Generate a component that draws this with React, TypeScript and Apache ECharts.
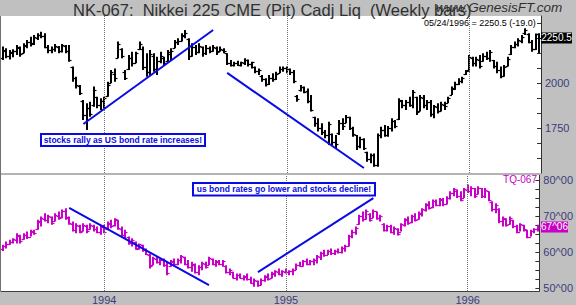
import React, { useEffect, useRef } from "react";
import * as echarts from "echarts";

// ---------- DATA ----------
const START_DATE = "1993-06-18"; // first weekly bar (Friday)
const WEEK_COUNT = 154; // last bar 05/24/1996

// Nikkei 225 CME weekly bars [open, high, low, close]
const nikkeiOHLC: number[][] = [
  [2140,2202,2128,2185],[2180,2193,2137,2150],[2150,2183,2131,2170],[2165,2187,2143,2180],
  [2175,2211,2155,2200],[2195,2202,2146,2160],[2165,2220,2165,2210],[2205,2239,2193,2230],
  [2230,2257,2202,2215],[2220,2267,2211,2255],[2250,2276,2239,2265],[2265,2285,2248,2260],
  [2260,2276,2193,2200],[2200,2211,2165,2185],[2185,2202,2165,2190],[2190,2217,2174,2205],
  [2200,2206,2165,2175],[2175,2217,2169,2210],[2205,2211,2165,2180],[2180,2211,2118,2125],
  [2090,2091,2007,2030],[2030,2035,1970,1990],[1985,1989,1933,1945],[1900,1906,1794,1820],
  [1820,1887,1739,1860],[1860,1896,1813,1830],[1880,1980,1868,1960],[1920,1924,1859,1880],
  [1880,1915,1850,1900],[1900,1924,1859,1915],[1930,2007,1924,1990],[2000,2072,1998,2060],
  [2050,2081,2007,2030],[2140,2230,2137,2215],[2190,2193,2137,2150],[2060,2072,2017,2030],
  [2075,2156,2072,2140],[2140,2174,2091,2110],[2110,2174,2109,2165],[2190,2230,2183,2215],
  [2190,2202,2072,2090],[2090,2165,2035,2060],[2060,2183,2044,2160],[2150,2165,2063,2080],
  [2080,2146,2044,2120],[2120,2174,2109,2150],[2140,2146,2100,2110],[2120,2183,2118,2170],
  [2160,2193,2128,2180],[2195,2239,2193,2225],[2225,2248,2211,2235],[2235,2276,2230,2265],
  [2260,2294,2248,2280],[2245,2248,2128,2150],[2150,2220,2146,2200],[2200,2211,2156,2170],
  [2170,2220,2165,2205],[2200,2202,2146,2165],[2165,2211,2156,2195],[2195,2202,2165,2180],
  [2180,2211,2174,2200],[2195,2202,2156,2170],[2175,2202,2174,2190],[2185,2193,2165,2175],
  [2165,2165,2100,2110],[2110,2128,2091,2100],[2100,2118,2091,2110],[2110,2124,2094,2100],
  [2100,2118,2091,2115],[2110,2137,2100,2125],[2125,2131,2091,2105],[2105,2118,2081,2115],
  [2088,2091,2054,2065],[2065,2081,2044,2070],[2040,2044,2007,2020],[2020,2026,1980,1995],
  [1995,2044,1989,2030],[2030,2054,2007,2020],[2020,2063,2017,2050],[2055,2091,2054,2080],
  [2075,2091,2063,2085],[2085,2091,2054,2080],[2080,2081,2044,2060],[2060,2072,1998,2010],
  [1930,1933,1896,1910],[1960,1989,1952,1975],[1975,1980,1943,1950],[1955,1970,1887,1900],
  [1900,1933,1841,1850],[1810,1813,1757,1780],[1780,1804,1730,1750],[1750,1776,1711,1730],
  [1730,1739,1693,1710],[1710,1785,1655,1770],[1715,1720,1655,1670],[1670,1711,1637,1660],
  [1720,1794,1711,1780],[1780,1804,1739,1760],[1780,1822,1776,1810],[1810,1813,1739,1750],
  [1750,1757,1702,1715],[1710,1711,1628,1650],[1650,1702,1637,1690],[1690,1693,1628,1640],
  [1615,1618,1563,1580],[1580,1609,1554,1600],[1600,1609,1535,1545],[1545,1720,1535,1710],
  [1710,1757,1693,1740],[1740,1767,1702,1710],[1710,1761,1702,1750],[1750,1804,1730,1790],
  [1790,1794,1748,1760],[1800,1915,1794,1905],[1900,1906,1859,1880],[1880,1906,1850,1895],
  [1895,1924,1868,1880],[1880,1961,1859,1950],[1920,1924,1822,1840],[1845,1933,1841,1920],
  [1915,1933,1859,1880],[1880,1906,1850,1895],[1895,1906,1813,1830],[1830,1878,1804,1870],
  [1865,1887,1831,1845],[1845,1896,1841,1885],[1880,1896,1850,1870],[1890,1924,1887,1915],
  [1935,1980,1933,1970],[1965,2007,1961,1995],[1995,2026,1989,2010],[2010,2035,1998,2025],
  [2050,2072,2044,2065],[2070,2156,2063,2145],[2140,2146,2091,2110],[2110,2146,2091,2135],
  [2130,2156,2081,2095],[2120,2165,2118,2150],[2150,2174,2128,2140],[2140,2183,2118,2170],
  [2125,2128,2081,2095],[2095,2118,2054,2070],[2070,2091,2026,2040],[2040,2100,2035,2090],
  [2095,2146,2091,2135],[2160,2211,2156,2200],[2200,2230,2193,2215],[2215,2248,2202,2240],
  [2235,2267,2220,2255],[2275,2304,2267,2295],[2270,2276,2220,2230],[2230,2239,2174,2190],
  [2190,2275,2183,2269.5],[2270,2276,2165,2250.5],
];

// TQ-067 (US T-bond) weekly bars [open, high, low, close], in points
const tqOHLC: number[][] = [
  [61.0,62.1,60.4,61.8],[61.8,63.0,61.1,62.4],[62.4,63.5,62.1,62.8],[62.8,63.9,62.5,63.6],
  [63.4,65.3,62.5,64.8],[64.6,64.9,62.5,63.2],[63.6,65.3,63.5,64.9],[64.8,65.8,63.7,64.2],
  [64.4,66.3,64.4,65.9],[65.8,66.3,64.9,65.4],[66.4,69.1,66.3,68.6],[68.4,70.0,67.2,69.5],
  [69.4,70.9,68.6,69.0],[69.0,70.5,68.1,70.1],[69.8,70.0,67.7,68.2],[68.6,70.9,68.6,70.4],
  [70.2,71.4,69.1,69.6],[69.8,71.9,69.5,71.5],[71.4,72.3,69.1,69.8],[69.6,70.0,67.7,68.1],
  [68.0,68.6,65.8,66.2],[66.2,68.1,65.3,67.6],[67.4,67.7,65.3,65.8],[65.9,68.1,65.8,67.5],
  [67.4,67.7,65.3,66.0],[66.4,68.1,66.3,67.6],[67.4,67.7,65.8,66.4],[66.4,67.2,65.3,65.6],
  [65.6,67.7,64.9,67.2],[67.0,67.7,65.3,65.8],[66.4,68.6,66.3,68.2],[68.0,69.1,66.7,67.4],
  [67.6,69.5,67.2,69.2],[69.0,69.1,66.3,66.8],[66.6,67.2,64.4,64.8],[64.8,66.3,63.9,65.6],
  [64.2,64.4,62.1,62.6],[62.6,63.9,61.6,63.4],[62.8,63.0,60.7,61.0],[61.2,62.5,60.7,62.2],
  [62.0,62.1,60.2,60.6],[60.8,61.1,59.3,59.6],[59.4,59.7,55.5,56.2],[56.4,58.8,56.4,58.4],
  [58.2,58.8,56.9,57.2],[57.4,58.3,56.4,57.9],[57.8,58.3,56.0,56.4],[56.4,57.4,53.6,54.2],
  [56.2,57.9,56.0,57.5],[57.4,58.3,56.4,56.8],[56.9,58.3,56.4,58.0],[57.8,59.3,56.9,58.9],
  [58.6,58.8,56.4,56.8],[56.8,57.9,55.5,55.8],[55.8,57.4,54.6,56.9],[56.6,56.9,54.1,54.4],
  [54.4,56.4,53.6,55.9],[55.8,57.4,55.0,57.0],[56.9,57.4,55.5,55.9],[56.4,58.8,56.4,58.4],
  [58.2,58.3,56.4,56.8],[56.8,57.9,56.0,57.5],[57.4,57.9,56.4,56.7],[56.7,57.9,56.0,57.6],
  [56.2,56.4,54.1,54.4],[54.4,55.5,53.6,55.0],[54.6,54.6,52.7,53.0],[53.0,54.1,52.2,53.8],
  [53.6,54.1,52.7,52.9],[52.9,53.6,52.2,53.3],[53.2,54.1,52.2,52.5],[52.5,53.2,51.3,51.6],
  [51.6,52.7,50.4,52.2],[52.0,52.2,50.4,50.8],[50.8,52.7,50.8,52.4],[52.2,53.6,51.8,53.3],
  [53.2,54.1,52.2,52.6],[52.8,54.6,52.7,54.2],[54.0,55.0,53.2,54.8],[54.6,55.5,53.6,53.9],
  [53.9,55.0,53.2,54.7],[54.6,55.5,54.1,54.4],[54.4,55.0,53.6,54.8],[54.7,55.5,53.6,55.2],
  [55.2,56.9,55.0,56.6],[56.5,57.4,56.0,56.3],[56.3,57.9,56.0,57.6],[57.5,58.3,56.4,56.8],
  [56.8,57.9,56.4,57.6],[57.5,58.3,56.4,57.9],[57.8,59.3,56.9,58.9],[58.8,60.2,57.9,59.8],
  [59.7,60.7,58.8,59.4],[59.4,60.7,59.3,60.4],[60.3,61.1,59.3,59.8],[59.8,60.7,59.3,60.5],
  [60.4,61.1,59.7,60.0],[60.0,61.6,59.7,61.3],[61.2,62.1,60.2,61.8],[61.8,64.9,61.6,64.6],
  [64.5,66.3,63.9,65.8],[65.8,67.2,64.9,66.9],[67.8,70.5,67.7,70.2],[70.0,71.4,68.6,69.2],
  [69.4,71.9,69.1,71.5],[70.8,70.9,68.6,69.0],[69.6,71.9,69.5,71.6],[71.4,71.4,69.1,69.6],
  [69.6,70.5,68.6,70.2],[68.0,68.1,65.8,66.2],[66.2,67.7,65.8,67.4],[67.2,67.7,65.3,65.6],
  [65.6,67.2,64.9,66.8],[66.6,66.7,64.7,65.2],[65.8,68.1,65.8,67.8],[67.6,69.5,67.2,69.2],
  [69.0,70.0,67.7,68.2],[68.4,70.5,68.1,70.2],[70.0,70.9,68.6,69.0],[69.2,71.4,69.1,71.0],
  [70.8,72.3,70.0,72.0],[71.8,73.7,71.4,73.4],[73.2,74.2,71.9,72.4],[72.6,74.7,72.3,74.4],
  [74.2,74.7,72.8,73.2],[73.2,75.1,72.8,74.8],[74.6,75.1,72.8,73.4],[73.5,75.6,73.3,75.2],
  [75.0,77.0,74.7,76.6],[76.4,77.9,75.6,77.5],[77.2,77.5,75.1,75.6],[75.6,77.0,74.2,74.6],
  [75.2,77.9,75.1,77.6],[77.4,78.9,76.5,77.0],[77.0,78.4,75.6,78.0],[77.8,77.9,75.1,75.6],
  [76.2,78.4,76.1,78.0],[77.8,77.9,75.1,75.6],[75.6,77.9,75.1,77.4],[77.0,77.0,74.2,74.6],
  [74.0,74.2,71.4,72.0],[72.0,73.7,70.9,73.2],[72.2,72.3,68.1,68.6],[68.6,70.0,67.2,69.6],
  [69.4,69.5,67.2,67.6],[67.8,70.0,67.7,69.6],[69.0,69.1,66.7,67.2],[67.2,67.7,65.3,65.6],
  [65.8,68.1,65.8,67.8],[67.6,67.7,65.8,66.4],[66.2,66.3,63.9,64.2],[64.4,66.3,64.4,66.0],
  [66.0,66.7,65.3,66.4],[66.4,67.7,65.8,67.1875],
];

// axis ticks / labels
const upperTicks = [1500, 1583.33, 1666.67, 1750, 1833.33, 1916.67, 2000, 2083.33, 2166.67, 2250, 2333.33];
const upperLabels = [1750, 2000];
const lowerTicks = [50, 52.5, 55, 57.5, 60, 62.5, 65, 67.5, 70, 72.5, 75, 77.5, 80];
const lowerLabels = [50, 60, 70, 80];

// hand-drawn trend lines: [week index, value]
const trendUpRally = [[23, 1772], [60, 2294]];
const trendUpDecline = [[64, 2056], [103, 1528]];
const trendLowDecline = [[19, 72.35], [59, 50.9]];
const trendLowRise = [[73, 54.5], [106, 75.1]];

// texts
const TITLE = "NK-067:  Nikkei 225 CME (Pit) Cadj Liq  (Weekly bars)";
const SITE = "www.GenesisFT.com";
const LAST_INFO = "05/24/1996 = 2250.5 (-19.0)";
const NOTE1 = "stocks rally as US bond rate increases!";
const NOTE2 = "us bond rates go lower and stocks decline!";
const LOWER_NAME = "TQ-067";

// ---------- helpers ----------
function buildWeeks(start: string, n: number): string[] {
  const out: string[] = [];
  const t0 = Date.parse(start + "T00:00:00Z");
  for (let i = 0; i < n; i++) {
    const d = new Date(t0 + i * 7 * 86400000);
    out.push(d.toISOString().slice(0, 10));
  }
  return out;
}
const weeks = buildWeeks(START_DATE, WEEK_COUNT);
const yearStarts: number[] = [];
weeks.forEach((w, i) => {
  if (i > 0 && w.slice(0, 4) !== weeks[i - 1].slice(0, 4)) yearStarts.push(i);
});
const yearStartSet = new Set(yearStarts);

function fmt32(v: number): string {
  const whole = Math.floor(v + 1e-9);
  const frac = Math.round((v - whole) * 32);
  return `${whole}^${String(frac).padStart(2, "0")}`;
}

const FONT = '"Liberation Sans", Arial, sans-serif';
const AXIS_TXT = "#3c3c78";
const BLUE = "#0a0ae6";
const MAGENTA = "#c800c8";

function makeRender(color: string) {
  return (params: any, api: any) => {
    const i = api.value(0);
    const p = api.coord([i, api.value(1)]);
    const cx = Math.round(p[0]);
    const yo = Math.round(p[1]) + 0.5;
    const yh = api.coord([i, api.value(2)])[1];
    const yl = api.coord([i, api.value(3)])[1];
    const yc = Math.round(api.coord([i, api.value(4)])[1]) + 0.5;
    return {
      type: "group",
      children: [
        { type: "line", shape: { x1: cx, y1: yh, x2: cx, y2: yl }, style: { stroke: color, lineWidth: 2 } },
        { type: "line", shape: { x1: cx - 2.5, y1: yo, x2: cx, y2: yo }, style: { stroke: color, lineWidth: 1.2 } },
        { type: "line", shape: { x1: cx, y1: yc, x2: cx + 2.5, y2: yc }, style: { stroke: color, lineWidth: 1.2 } },
      ],
    };
  };
}

export default function App() {
  const ref = useRef<HTMLDivElement>(null);
  useEffect(() => {
    document.body.style.margin = "0";
    if (!ref.current) return;
    const chart = echarts.init(ref.current, null, { renderer: "svg" });
    const yearMark = () => ({
      symbol: ["none", "none"],
      silent: true,
      label: { show: false },
      lineStyle: { type: "dotted", color: "#707070", width: 1 },
      data: yearStarts.map((i) => ({ xAxis: weeks[i] })),
    });
    const trend = (name: string, data: number[][], grid: number, withMark: boolean) => ({
      type: "line",
      name,
      xAxisIndex: grid,
      yAxisIndex: grid,
      data,
      showSymbol: false,
      symbol: "none",
      silent: true,
      z: 5,
      lineStyle: { color: BLUE, width: 2 },
      markLine: withMark ? yearMark() : undefined,
    });
    const option: any = {
      animation: false,
      backgroundColor: "#c0c0c0",
      grid: [
        { left: 1, right: 35, top: 16, height: 157, show: true, backgroundColor: "#ffffff", borderWidth: 0 },
        { left: 1, right: 35, top: 175, height: 116, show: true, backgroundColor: "#ffffff", borderWidth: 0 },
      ],
      xAxis: [
        {
          type: "category", gridIndex: 0, data: weeks, boundaryGap: true,
          axisLine: { show: false }, axisTick: { show: false }, axisLabel: { show: false }, splitLine: { show: false },
        },
        {
          type: "category", gridIndex: 1, data: weeks, boundaryGap: true,
          axisLine: { show: true, lineStyle: { color: "#404040" } },
          axisTick: { show: false },
          axisLabel: {
            show: true,
            interval: (idx: number) => yearStartSet.has(idx),
            formatter: (v: string) => v.slice(0, 4),
            color: AXIS_TXT, fontSize: 11, margin: 3, fontFamily: FONT,
          },
          splitLine: { show: false },
        },
      ],
      yAxis: [
        {
          type: "value", gridIndex: 0, position: "right", min: 1500, max: 2372,
          axisLine: { show: true, lineStyle: { color: "#303030" } },
          axisTick: { show: true, inside: true, length: 4, customValues: upperTicks, lineStyle: { color: "#303030" } },
          axisLabel: {
            show: true, customValues: upperLabels, formatter: (v: number) => String(v),
            color: AXIS_TXT, fontSize: 11, margin: 4, fontFamily: FONT,
          },
          splitLine: { show: false },
        },
        {
          type: "value", gridIndex: 1, position: "right", min: 49.25, max: 81.53,
          axisLine: { show: true, lineStyle: { color: "#303030" } },
          axisTick: { show: true, inside: true, length: 4, customValues: lowerTicks, lineStyle: { color: "#303030" } },
          axisLabel: {
            show: true, customValues: lowerLabels, formatter: (v: number) => fmt32(v),
            color: AXIS_TXT, fontSize: 11, margin: 4, fontFamily: FONT,
          },
          splitLine: { show: false },
        },
      ],
      series: [
        {
          type: "custom", name: "NK-067", xAxisIndex: 0, yAxisIndex: 0,
          data: nikkeiOHLC.map((d, i) => [i, ...d]),
          encode: { x: 0, y: [1, 2, 3, 4] },
          renderItem: makeRender("#000000"),
          silent: true, z: 3,
        },
        {
          type: "custom", name: LOWER_NAME, xAxisIndex: 1, yAxisIndex: 1,
          data: tqOHLC.map((d, i) => [i, ...d]),
          encode: { x: 0, y: [1, 2, 3, 4] },
          renderItem: makeRender(MAGENTA),
          silent: true, z: 3,
        },
        trend("rally", trendUpRally, 0, true),
        trend("decline", trendUpDecline, 0, false),
        trend("bondDown", trendLowDecline, 1, true),
        trend("bondUp", trendLowRise, 1, false),
      ],
    };
    chart.setOption(option);

    const lastUp = nikkeiOHLC[nikkeiOHLC.length - 1][3];
    const lastLow = tqOHLC[tqOHLC.length - 1][3];
    const yUp = chart.convertToPixel({ yAxisIndex: 0 }, lastUp) as number;
    const yLow = chart.convertToPixel({ yAxisIndex: 1 }, lastLow) as number;

    const txt = (text: string, x: number, y: number, o: any = {}) => ({
      type: "text",
      z: 100,
      style: {
        text, x, y,
        fontFamily: FONT,
        fontSize: o.size ?? 11,
        fontWeight: o.weight ?? "normal",
        fontStyle: o.style ?? "normal",
        fill: o.fill ?? "#000",
        align: o.align ?? "left",
        textAlign: o.align ?? "left",
        verticalAlign: "middle",
        textVerticalAlign: "middle",
      },
    });

    chart.setOption({
      graphic: [
        // panel separator & borders
        { type: "rect", z: 90, shape: { x: 1, y: 173, width: 540, height: 2 }, style: { fill: "#b4b4b4" } },
        { type: "line", z: 90, shape: { x1: 0.5, y1: 16, x2: 0.5, y2: 291 }, style: { stroke: "#707070", lineWidth: 1 } },
        // title & header texts
        txt(TITLE, 73, 10, { size: 16.5, fill: "#303030" }),
        txt(SITE, 436, 7.5, { size: 13.5, style: "italic", fill: "#303030" }),
        txt(LAST_INFO, 424, 22.5, { size: 9, fill: "#000" }),
        // last price boxes
        { type: "rect", z: 99, shape: { x: 541, y: Math.round(yUp) - 5.5, width: 31, height: 11 }, style: { fill: "#000000" } },
        txt(String(lastUp), 556.5, yUp, { size: 10, fill: "#ffffff", align: "center" }),
        { type: "rect", z: 99, shape: { x: 541, y: Math.round(yLow) - 5.5, width: 27, height: 11 }, style: { fill: MAGENTA } },
        txt(fmt32(lastLow), 554.5, yLow, { size: 10, fill: "#ffffff", align: "center" }),
        // lower series name
        txt(LOWER_NAME, 537, 179, { size: 10, fill: MAGENTA, align: "right" }),
        // annotation boxes
        { type: "rect", z: 99, shape: { x: 41, y: 134, width: 164, height: 12 }, style: { fill: "#ffffff", stroke: BLUE, lineWidth: 2 } },
        txt(NOTE1, 123, 140, { size: 8.5, weight: "bold", fill: BLUE, align: "center" }),
        { type: "rect", z: 99, shape: { x: 193, y: 183, width: 182, height: 12.5 }, style: { fill: "#ffffff", stroke: BLUE, lineWidth: 2 } },
        txt(NOTE2, 284, 189.3, { size: 8.5, weight: "bold", fill: BLUE, align: "center" }),
      ],
    });

    return () => chart.dispose();
  }, []);
  return <div ref={ref} style={{ width: 576, height: 305 }} />;
}
